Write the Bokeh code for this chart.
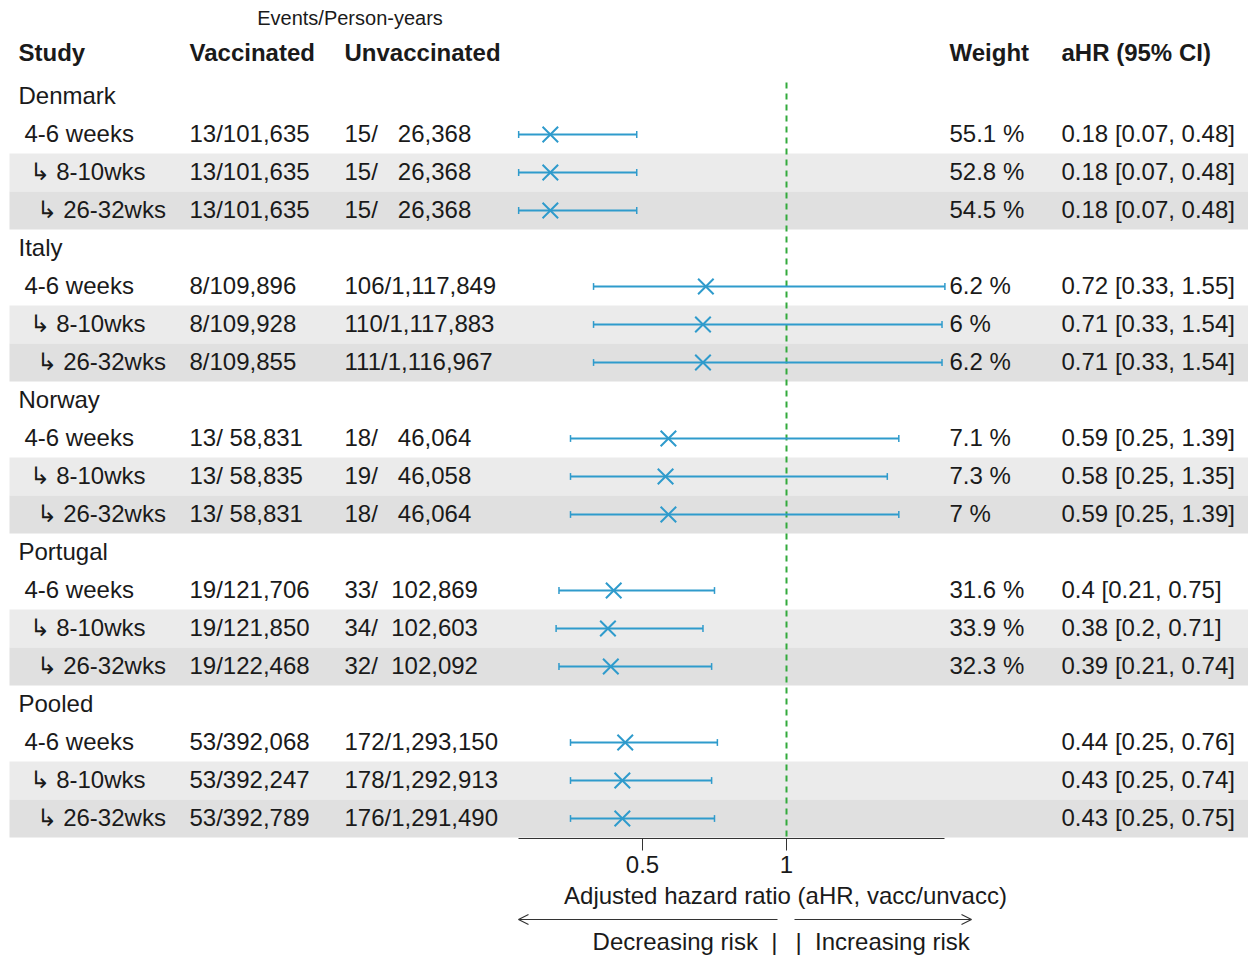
from bokeh.plotting import figure
from bokeh.models import Range1d, LinearAxis, FixedTicker, Arrow, OpenHead, ColumnDataSource
from bokeh.core.properties import value
from bokeh.embed import file_html
from bokeh.resources import INLINE

# ---------------- data ----------------
studies = ["Denmark", "Italy", "Norway", "Portugal", "Pooled"]
periods = ["4-6 weeks", "\u21b3 8-10wks", "\u21b3 26-32wks"]

vacc_events = [[13, 13, 13], [8, 8, 8], [13, 13, 13], [19, 19, 19], [53, 53, 53]]
vacc_py = [[101635, 101635, 101635], [109896, 109928, 109855], [58831, 58835, 58831],
           [121706, 121850, 122468], [392068, 392247, 392789]]
unvacc_events = [[15, 15, 15], [106, 110, 111], [18, 19, 18], [33, 34, 32], [172, 178, 176]]
unvacc_py = [[26368, 26368, 26368], [1117849, 1117883, 1116967], [46064, 46058, 46064],
             [102869, 102603, 102092], [1293150, 1292913, 1291490]]
weights = [[55.1, 52.8, 54.5], [6.2, 6, 6.2], [7.1, 7.3, 7], [31.6, 33.9, 32.3], [None, None, None]]
ahr = [[0.18, 0.18, 0.18], [0.72, 0.71, 0.71], [0.59, 0.58, 0.59], [0.4, 0.38, 0.39], [0.44, 0.43, 0.43]]
ahr_lo = [[0.07, 0.07, 0.07], [0.33, 0.33, 0.33], [0.25, 0.25, 0.25], [0.21, 0.2, 0.21], [0.25, 0.25, 0.25]]
ahr_hi = [[0.48, 0.48, 0.48], [1.55, 1.54, 1.54], [1.39, 1.35, 1.39], [0.75, 0.71, 0.74], [0.76, 0.74, 0.75]]
x_ticks = [0.5, 1]

# ---------------- layout helpers ----------------
W, H = 1248, 955
OFF = 0             # figure origin in page pixels
PX_PER_UNIT = 288.0
X_ONE = 786.0       # page pixel of HR = 1
ROW0 = 96.0         # page pixel of first row center
ROW_H = 38.0
TEXT_DY = -1.5 / ROW_H   # small visual correction for text baseline


def px_x(X):
    return 1 + (X - X_ONE) / PX_PER_UNIT


def px_y(Y):
    return (Y - ROW0) / ROW_H


FONT = value("Liberation Sans")
TXT = "#1a1a1a"
BLUE = "#2f9bcc"

p = figure(width=W, height=H,
           x_range=Range1d(px_x(OFF), px_x(OFF + W)),
           y_range=Range1d(px_y(OFF + H), px_y(OFF)),
           x_axis_type=None, y_axis_type=None,
           min_border=0, toolbar_location=None, output_backend="svg")
p.outline_line_color = None
p.xgrid.visible = False
p.ygrid.visible = False
p.background_fill_color = "white"
p.border_fill_color = "white"

# ---------------- build rows ----------------
def fmt_int(n):
    return f"{n:,}"

vpy_w = max(len(fmt_int(v)) for g in vacc_py for v in g)
upy_w = max(len(fmt_int(v)) for g in unvacc_py for v in g)
NB = "\u00a0"

grp_rows, grp_names = [], []
rows, labels, label_x, vacc_txt, unvacc_txt, w_txt, ci_txt = [], [], [], [], [], [], []
est, lo, hi = [], [], []
shade_rows, shade_cols = [], []
indent_px = [24, 29, 36]
r = 0
for gi, s in enumerate(studies):
    grp_rows.append(r)
    grp_names.append(s)
    r += 1
    for k in range(3):
        rows.append(r)
        labels.append(periods[k])
        label_x.append(px_x(indent_px[k]))
        ve = vacc_events[gi][k]; vp = fmt_int(vacc_py[gi][k])
        ue = unvacc_events[gi][k]; up = fmt_int(unvacc_py[gi][k])
        vacc_txt.append(f"{ve}/" + NB * (vpy_w - len(vp)) + vp)
        unvacc_txt.append(f"{ue}/" + NB * (upy_w - len(up)) + up)
        w = weights[gi][k]
        w_txt.append("" if w is None else f"{w:g} %")
        ci_txt.append(f"{ahr[gi][k]:g} [{ahr_lo[gi][k]:g}, {ahr_hi[gi][k]:g}]")
        est.append(ahr[gi][k]); lo.append(ahr_lo[gi][k]); hi.append(ahr_hi[gi][k])
        if k > 0:
            shade_rows.append(r)
            shade_cols.append("#ebebeb" if k == 1 else "#e0e0e0")
        r += 1

trow = [y + TEXT_DY for y in rows]
tgrp = [y + TEXT_DY for y in grp_rows]

# shading
p.quad(left=px_x(9), right=px_x(OFF + W),
       top=[y - 0.5 for y in shade_rows], bottom=[y + 0.5 for y in shade_rows],
       fill_color=shade_cols, line_color=None)

# reference line at HR = 1
p.segment(x0=[1], x1=[1], y0=[px_y(82)], y1=[px_y(838)],
          line_color="#33aa3c", line_width=2, line_dash="6 5")

# CIs
src = ColumnDataSource(dict(y=rows, est=est, lo=lo, hi=hi,
                            ytop=[y - 0.09 for y in rows], ybot=[y + 0.09 for y in rows]))
p.segment(x0="lo", x1="hi", y0="y", y1="y", source=src, line_color=BLUE, line_width=2)
p.segment(x0="lo", x1="lo", y0="ytop", y1="ybot", source=src, line_color=BLUE, line_width=1.5)
p.segment(x0="hi", x1="hi", y0="ytop", y1="ybot", source=src, line_color=BLUE, line_width=1.5)
p.scatter(x="est", y="y", source=src, marker="x", size=22, line_color=BLUE, line_width=2)

# axis
ax = LinearAxis(fixed_location=px_y(838), bounds=(min(min(g) for g in ahr_lo), max(max(g) for g in ahr_hi)),
                ticker=FixedTicker(ticks=x_ticks))
ax.axis_line_color = "#333333"
ax.axis_line_width = 1.2
ax.major_tick_line_color = "#333333"
ax.major_tick_out = 12
ax.major_tick_in = 0
ax.minor_tick_out = 0
ax.minor_tick_in = 0
ax.major_label_text_font = "Liberation Sans"
ax.major_label_text_font_size = "24px"
ax.major_label_text_color = TXT
ax.major_label_standoff = 5
p.add_layout(ax, "below")

# texts
def txt(x, y, t, size="24px", align="left", style="normal"):
    p.text(x=x, y=y, text=t, text_font=FONT, text_font_size=size, text_align=align,
           text_baseline="middle", text_color=TXT, text_font_style=style)

txt([px_x(349.5)], [px_y(17.5)], ["Events/Person-years"], size="20px", align="center")
hdr_y = px_y(52)
txt([px_x(18)], [hdr_y], ["Study"], style="bold")
txt([px_x(189)], [hdr_y], ["Vaccinated"], style="bold")
txt([px_x(344)], [hdr_y], ["Unvaccinated"], style="bold")
txt([px_x(949)], [hdr_y], ["Weight"], style="bold")
txt([px_x(1061)], [hdr_y], ["aHR (95% CI)"], style="bold")

txt([px_x(18)] * len(grp_rows), tgrp, grp_names)
txt(label_x, trow, labels)
txt([px_x(189)] * len(rows), trow, vacc_txt)
txt([px_x(344)] * len(rows), trow, unvacc_txt)
txt([px_x(949)] * len(rows), trow, w_txt)
txt([px_x(1061)] * len(rows), trow, ci_txt)

txt([px_x(785)], [px_y(895)], ["Adjusted hazard ratio (aHR, vacc/unvacc)"], align="center")
txt([px_x(777)], [px_y(941)], ["Decreasing risk\u00a0\u00a0|"], align="right")
txt([px_x(795)], [px_y(941)], ["|\u00a0\u00a0Increasing risk"], align="left")

ay = px_y(919)
p.add_layout(Arrow(end=OpenHead(size=10, line_width=1.2, line_color="#333333"),
                   x_start=px_x(777), y_start=ay, x_end=px_x(518), y_end=ay,
                   line_width=1.2, line_color="#333333"))
p.add_layout(Arrow(end=OpenHead(size=10, line_width=1.2, line_color="#333333"),
                   x_start=px_x(794), y_start=ay, x_end=px_x(971), y_end=ay,
                   line_width=1.2, line_color="#333333"))

open("out.html", "w").write(file_html(p, INLINE))
